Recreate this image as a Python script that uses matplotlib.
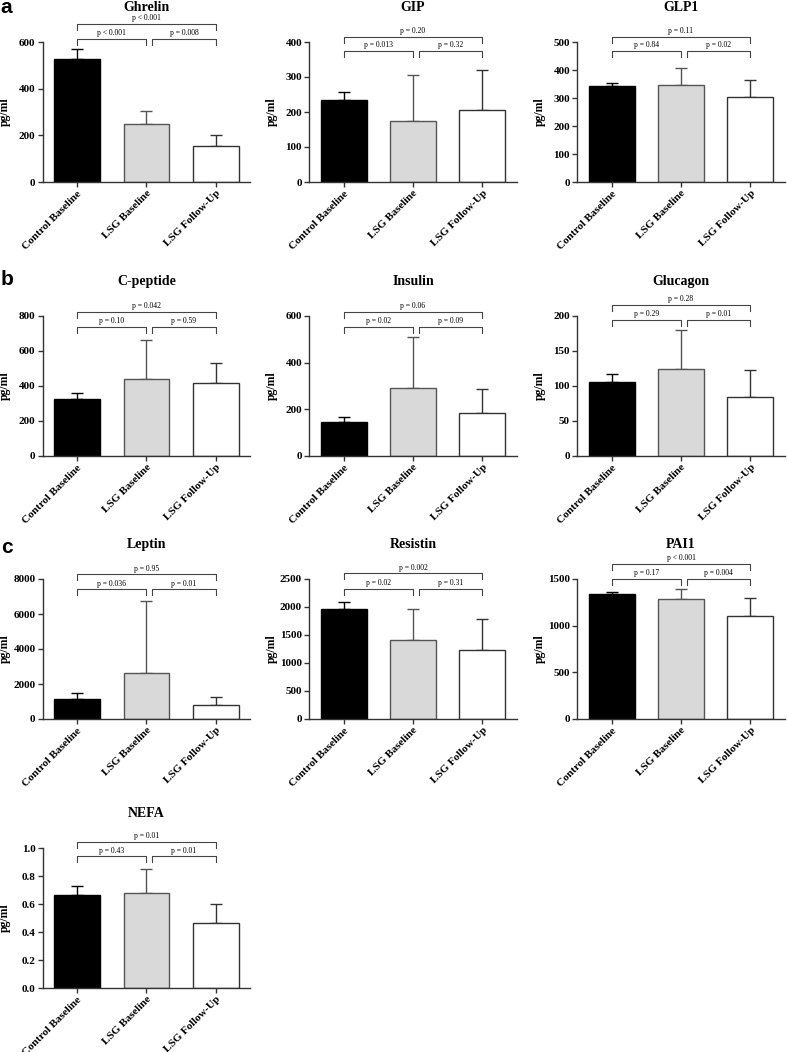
import numpy as np
import matplotlib
matplotlib.use('Agg')
import matplotlib.pyplot as plt

plt.rcParams['font.family'] = ['Liberation Serif', 'DejaVu Serif']

groups = ['Control Baseline', 'LSG Baseline', 'LSG Follow-Up']

titles = ['Ghrelin', 'GIP', 'GLP1', 'C-peptide', 'Insulin', 'Glucagon',
          'Leptin', 'Resistin', 'PAI1', 'NEFA']

# bar means and upper end of error bars
means = [
    [527, 247, 154],
    [234, 175, 206],
    [343, 348, 303],
    [324, 438, 415],
    [144, 292, 184],
    [105, 124, 84],
    [1162, 2629, 781],
    [1962, 1417, 1226],
    [1337, 1287, 1105],
    [0.661, 0.680, 0.467],
]
err_top = [
    [570, 303, 200],
    [256, 305, 320],
    [353, 407, 366],
    [358, 663, 533],
    [165, 511, 286],
    [116.5, 180, 123],
    [1467, 6762, 1257],
    [2093, 1956, 1782],
    [1362, 1397, 1292],
    [0.727, 0.853, 0.597],
]
ymax = [600, 400, 500, 800, 600, 200, 8000, 2500, 1500, 1.0]
ystep = [200, 100, 100, 200, 200, 50, 2000, 500, 500, 0.2]

p_left = ['p < 0.001', 'p = 0.013', 'p = 0.84', 'p = 0.10', 'p = 0.02',
          'p = 0.29', 'p = 0.036', 'p = 0.02', 'p = 0.17', 'p = 0.43']
p_right = ['p = 0.008', 'p = 0.32', 'p = 0.02', 'p = 0.59', 'p = 0.09',
           'p = 0.01', 'p = 0.01', 'p = 0.31', 'p = 0.004', 'p = 0.01']
p_top = ['p < 0.001', 'p = 0.20', 'p = 0.11', 'p = 0.042', 'p = 0.06',
         'p = 0.28', 'p = 0.95', 'p = 0.002', 'p < 0.001', 'p = 0.01']

# bracket heights in axes fraction (pair line, top line)
br_pair = [1.021, 0.936, 0.936, 0.924, 0.924, 0.971, 0.926, 0.93, 1.0, 0.94]
br_top = [1.129, 1.038, 1.038, 1.031, 1.031, 1.079, 1.033, 1.04, 1.107, 1.043]

fills = ['black', '#d9d9d9', 'white']
edges = ['black', '#555555', '#333333']

W, H = 787, 1052
fig = plt.figure(figsize=(W / 100, H / 100), dpi=100)

col_left = [42.5, 309, 577]
row_bottom = [182, 456, 719, 988]
ax_w, ax_h = 208, 140

x = np.arange(3)
for i, t in enumerate(titles):
    r, c = divmod(i, 3)
    ax = fig.add_axes([col_left[c] / W, 1 - row_bottom[r] / H, ax_w / W, ax_h / H])
    for j in range(3):
        ax.bar(x[j], means[i][j], width=0.66, color=fills[j], edgecolor=edges[j],
               linewidth=1.0, zorder=2)
        ax.errorbar(x[j], means[i][j], yerr=[[0], [err_top[i][j] - means[i][j]]],
                    fmt='none', ecolor=edges[j], elinewidth=1.0, capsize=4.5,
                    capthick=1.0, zorder=1)
    ax.set_xlim(-0.5, 2.5)
    ax.set_ylim(0, ymax[i])
    ax.set_yticks(np.arange(0, ymax[i] + ystep[i] / 2, ystep[i]))
    if i == 9:
        ax.set_yticklabels(['%.1f' % v for v in ax.get_yticks()])
    ax.set_xticks(x)
    ax.set_xticklabels(groups, rotation=45, ha='right', rotation_mode='anchor',
                       fontsize=8, fontweight='bold')
    for lab in ax.get_yticklabels():
        lab.set_fontsize(8)
        lab.set_fontweight('bold')
    ax.tick_params(axis='both', direction='out', length=3.5, width=1.0,
                   color='#333333', pad=1.5)
    for s in ['top', 'right']:
        ax.spines[s].set_visible(False)
    for s in ['left', 'bottom']:
        ax.spines[s].set_linewidth(1.0)
        ax.spines[s].set_color('#333333')
    ax.set_ylabel('pg/ml', fontsize=8.5, fontweight='bold')
    ax.yaxis.set_label_coords(-0.15, 0.5)
    ax.text(1.0, 1.245, t, transform=ax.get_xaxis_transform(), ha='center',
            va='center', fontsize=10, fontweight='bold')

    tr = ax.get_xaxis_transform()
    leg = 0.042
    for (x0, x1, yb, lab) in [(0, 1, br_pair[i], p_left[i]),
                              (1.08, 2, br_pair[i], p_right[i]),
                              (0, 2, br_top[i], p_top[i])]:
        ax.plot([x0, x0, x1, x1], [yb - leg, yb, yb, yb - leg], color='#444444',
                lw=0.8, transform=tr, clip_on=False)
        ax.text((x0 + x1) / 2, yb + 0.012, lab, transform=tr, ha='center',
                va='bottom', fontsize=5.5)

for lab, yb in [('a', 13), ('b', 285), ('c', 553)]:
    fig.text(0.001, 1 - yb / H, lab, fontsize=15, fontweight='bold',
             family=['Liberation Sans', 'DejaVu Sans'], va='baseline')

fig.savefig('out.png', dpi=100)
